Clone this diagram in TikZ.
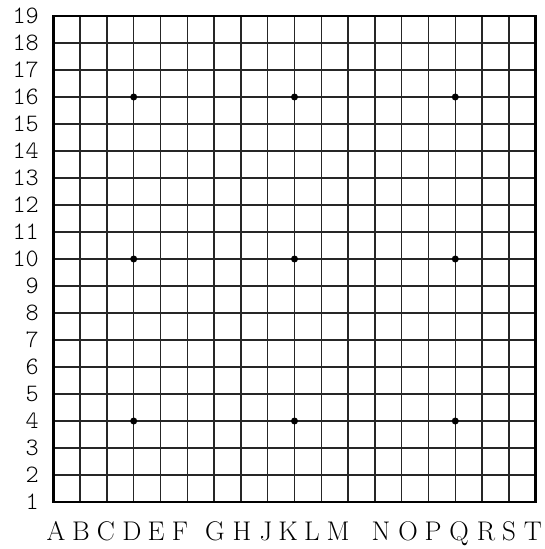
\documentclass[tikz,border=0pt]{standalone}
\usepackage{fontspec}
\newfontfamily\monof{Latin Modern Mono Light}
\begin{document}
\begin{tikzpicture}[x=1pt,y=-1pt,
  gridline/.style={line width=1.3pt,draw=black!85},
  border/.style={line width=2.6pt,draw=black},
  star/.style={circle,fill=black,inner sep=0pt,minimum size=7pt},
  rowlab/.style={anchor=east,inner sep=0pt,font=\monof\fontsize{25}{28}\selectfont},
  collab/.style={anchor=base,inner sep=0pt,font=\fontsize{27}{30}\selectfont}]
\useasboundingbox (0,0) rectangle (545,549);
\def\gx{53.3}\def\gy{16}\def\dx{26.8}\def\dy{27}
\foreach \i in {1,...,17}{
  \draw[gridline] ({\gx+\i*\dx},\gy) -- ({\gx+\i*\dx},{\gy+18*\dy});
  \draw[gridline] (\gx,{\gy+\i*\dy}) -- ({\gx+18*\dx},{\gy+\i*\dy});
}
\draw[border] (\gx,\gy) rectangle ({\gx+18*\dx},{\gy+18*\dy});
\foreach \a in {3,9,15}{\foreach \b in {3,9,15}{
  \node[star] (s\a-\b) at ({\gx+\a*\dx},{\gy+\b*\dy}) {};
}}
\foreach \n in {1,...,19}{
  \node[rowlab] (r\n) at (39,{\gy+(19-\n)*\dy}) {\n};
}
\foreach \l/\c in {A/56,B/81,C/106,D/132,E/156,F/180,G/215,H/242,J/266,K/288,L/312,M/338,N/381,O/408,P/433,Q/459,R/486,S/509,T/533}{
  \node[collab] (c\l) at (\c,540) {\l};
}
\end{tikzpicture}
\end{document}
